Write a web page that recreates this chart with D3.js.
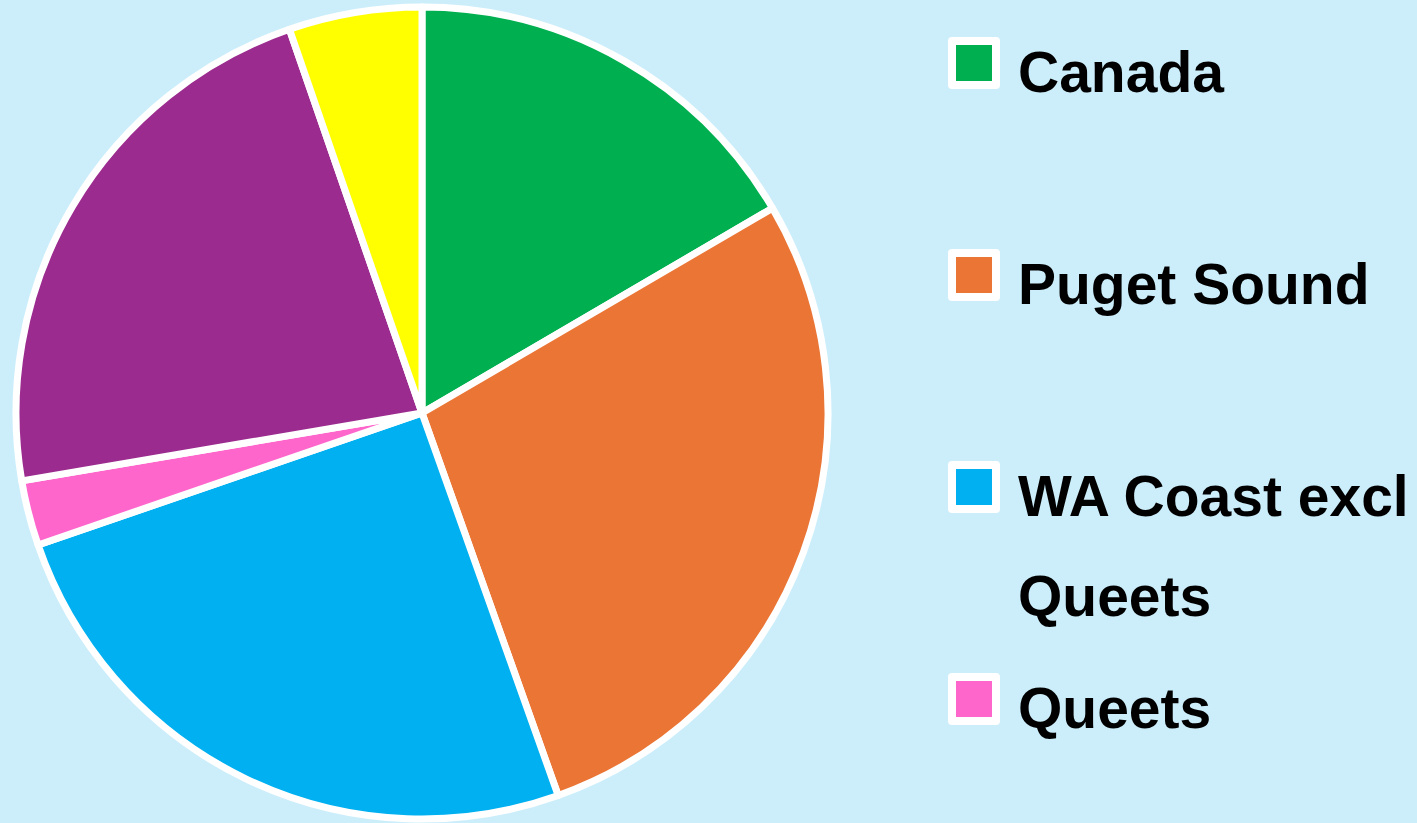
<!DOCTYPE html>
<html>
<head>
<meta charset="utf-8">
<script src="https://cdn.jsdelivr.net/npm/d3@7"></script>
<style>
  html, body { margin: 0; padding: 0; background: #cceefb; }
  #chart { width: 1417px; height: 823px; }
  .legend-label { font-family: "Liberation Sans", Arial, sans-serif; font-weight: bold; font-size: 57px; fill: #000; }
</style>
</head>
<body>
<div id="chart"></div>
<script>
// Data (shares in %, clockwise from 12 o'clock)
const categories = ["Canada", "Puget Sound", "WA Coast excl Queets", "Queets", "Series 5", "Series 6"];
const shares = [16.6, 28.0, 25.2, 2.6, 22.4, 5.3];
const colors = ["#00b050", "#ea7535", "#00b0f0", "#ff66cc", "#9b2b8e", "#ffff00"];
// only the first four entries fit in the legend box
const legendCount = 4;

const data = categories.map((c, i) => ({ name: c, value: shares[i], color: colors[i] }));

const container = d3.select("#chart");
const width = 1417;
const height = 823;

const svg = container.append("svg")
  .attr("width", width)
  .attr("height", height);

svg.append("rect")
  .attr("width", width)
  .attr("height", height)
  .attr("fill", "#cceefb");

// Pie
const cx = 422;
const cy = 413;
const radius = 406;

const pie = d3.pie().sort(null).value((d) => d.value);
const arc = d3.arc().innerRadius(0).outerRadius(radius);

const g = svg.append("g").attr("transform", `translate(${cx}, ${cy})`);

g.selectAll("path")
  .data(pie(data))
  .join("path")
  .attr("d", arc)
  .attr("fill", (d) => d.data.color)
  .attr("stroke", "#fff")
  .attr("stroke-width", 7)
  .attr("stroke-linejoin", "round");

// Legend
const legendX = 948;
const textX = 1018;
const maxTextWidth = width - textX - 2;

const yScale = d3.scaleLinear().domain([0, 1]).range([63, 275]);

const legend = svg.append("g").attr("class", "legend");

const items = legend.selectAll("g")
  .data(data.slice(0, legendCount))
  .join("g")
  .attr("transform", (d, i) => `translate(0, ${yScale(i)})`);

items.append("rect")
  .attr("x", legendX)
  .attr("y", -26)
  .attr("width", 52)
  .attr("height", 52)
  .attr("rx", 4)
  .attr("fill", "#fff");

items.append("rect")
  .attr("x", legendX + 8)
  .attr("y", -18)
  .attr("width", 36)
  .attr("height", 36)
  .attr("fill", (d) => d.color);

// word-wrap labels that are wider than the space left
items.each(function (d) {
  const text = d3.select(this).append("text")
    .attr("class", "legend-label")
    .attr("x", textX)
    .attr("y", 29);
  const words = d.name.split(" ");
  let line = [];
  let tspan = text.append("tspan").attr("x", textX).attr("dy", 0);
  words.forEach((w) => {
    line.push(w);
    tspan.text(line.join(" "));
    if (tspan.node().getComputedTextLength() > maxTextWidth && line.length > 1) {
      line.pop();
      tspan.text(line.join(" "));
      line = [w];
      tspan = text.append("tspan").attr("x", textX).attr("dy", 100).text(w);
    }
  });
});
</script>
</body>
</html>
